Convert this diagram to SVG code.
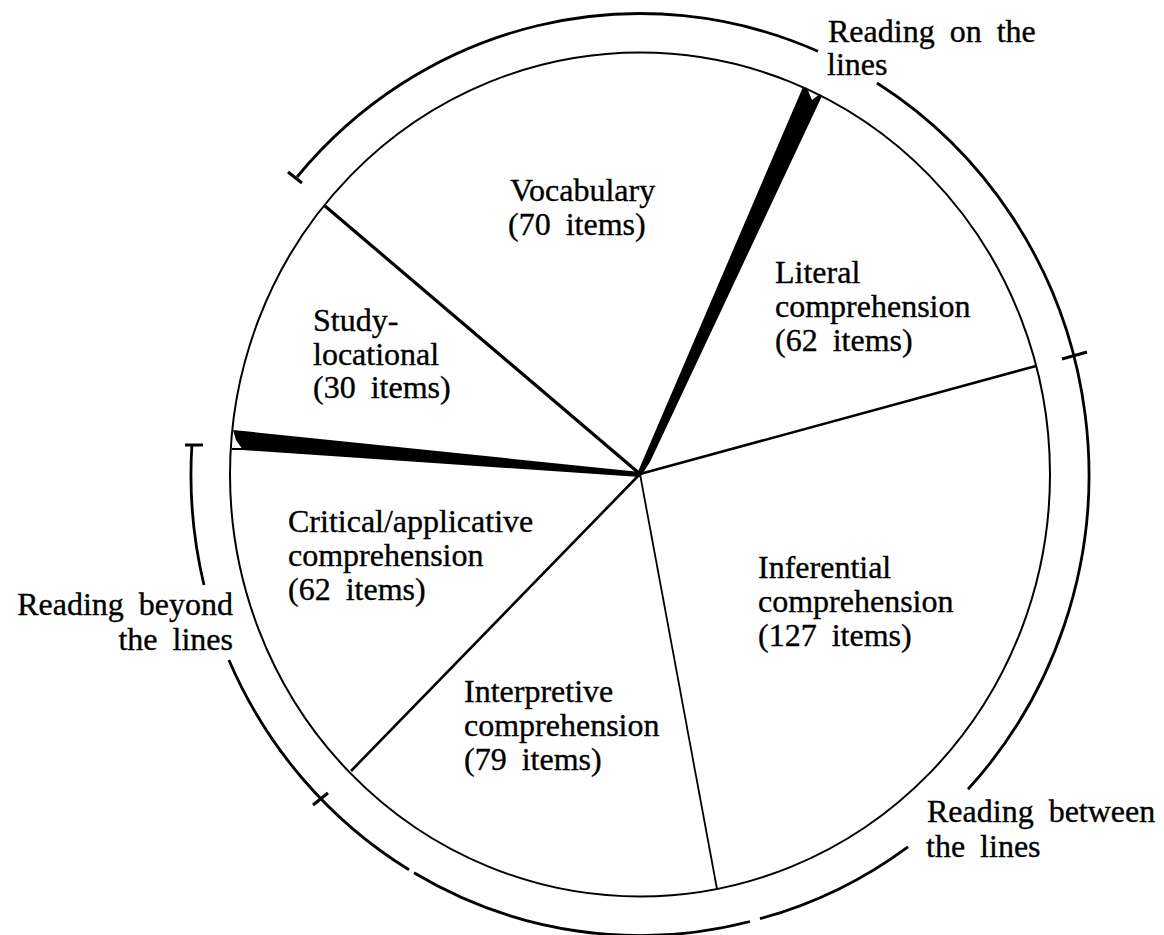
<svg xmlns="http://www.w3.org/2000/svg" width="1164" height="935" viewBox="0 0 1164 935">
<style>
.t{font-family:"Liberation Serif","Times New Roman",serif;font-size:32px;fill:#000;stroke:#000;stroke-width:0.35;word-spacing:7px}
.arc{fill:none;stroke:#000;stroke-width:2.8;stroke-linecap:butt}
.rim{fill:none;stroke:#000;stroke-width:2}
.rad{stroke:#000;fill:none}
.tick{stroke:#000;stroke-width:3;fill:none}
.wedge{fill:#000;stroke:none}
</style>
<rect width="1164" height="935" fill="#fff"/>
<g id="pie">
<ellipse class="rim" cx="640" cy="474.5" rx="410" ry="422"/>
</g>
<g id="connectors">
<polygon class="wedge" points="803,87 807,88 812,100 820,94 822,96 650,462 641,476 637,474"/>
<polygon class="wedge" points="233,430 640,472 640,477 243,450 236,440"/>
<line class="rad" x1="232" y1="449" x2="244" y2="449" stroke-width="2"/>
<line class="rad" x1="325" y1="206" x2="640" y2="474" stroke-width="3.2"/>
<line class="rad" x1="1036" y1="366" x2="640" y2="474" stroke-width="2.6"/>
<line class="rad" x1="717" y1="889" x2="640" y2="474" stroke-width="1.8"/>
<line class="rad" x1="351" y1="771" x2="640" y2="474" stroke-width="2.6"/>
</g>
<g id="outer-arcs">
<path class="arc" d="M297,177 A449,461 0 0 1 818,51.3"/>
<path class="arc" d="M877,83 A449,461 0 0 1 968,789.3"/>
<path class="arc" d="M908,846.8 A449,461 0 0 1 760,918.7"/>
<path class="arc" d="M750,921.5 A449,461 0 0 1 414,872.8"/>
<path class="arc" d="M409,869.8 A449,461 0 0 1 228.9,660"/>
<path class="arc" d="M204,585 A449,461 0 0 1 191.9,445"/>
<line class="tick" x1="288" y1="172" x2="302" y2="183"/>
<line class="tick" x1="1062" y1="359" x2="1087" y2="352"/>
<line class="tick" x1="313" y1="805" x2="328" y2="793"/>
<line class="tick" x1="185" y1="445" x2="203" y2="445"/>
</g>
<g id="vocabulary">
<text class="t" x="510" y="201">Vocabulary</text>
<text class="t" x="508" y="235">(70 items)</text>
</g>
<g id="literal">
<text class="t" x="775" y="283">Literal</text>
<text class="t" x="775" y="317">comprehension</text>
<text class="t" x="775" y="351">(62 items)</text>
</g>
<g id="study-locational">
<text class="t" x="313" y="331">Study-</text>
<text class="t" x="313" y="365">locational</text>
<text class="t" x="313" y="398">(30 items)</text>
</g>
<g id="critical">
<text class="t" x="288" y="532">Critical/applicative</text>
<text class="t" x="288" y="566">comprehension</text>
<text class="t" x="288" y="600">(62 items)</text>
</g>
<g id="inferential">
<text class="t" x="758" y="578">Inferential</text>
<text class="t" x="758" y="612">comprehension</text>
<text class="t" x="758" y="646">(127 items)</text>
</g>
<g id="interpretive">
<text class="t" x="464" y="702">Interpretive</text>
<text class="t" x="464" y="736">comprehension</text>
<text class="t" x="464" y="770">(79 items)</text>
</g>
<g id="reading-on">
<text class="t" x="828" y="42">Reading on the</text>
<text class="t" x="827" y="75">lines</text>
</g>
<g id="reading-between">
<text class="t" x="927" y="822">Reading between</text>
<text class="t" x="926" y="857">the lines</text>
</g>
<g id="reading-beyond">
<text class="t" x="233" y="615" text-anchor="end">Reading beyond</text>
<text class="t" x="233" y="650" text-anchor="end">the lines</text>
</g>
</svg>
